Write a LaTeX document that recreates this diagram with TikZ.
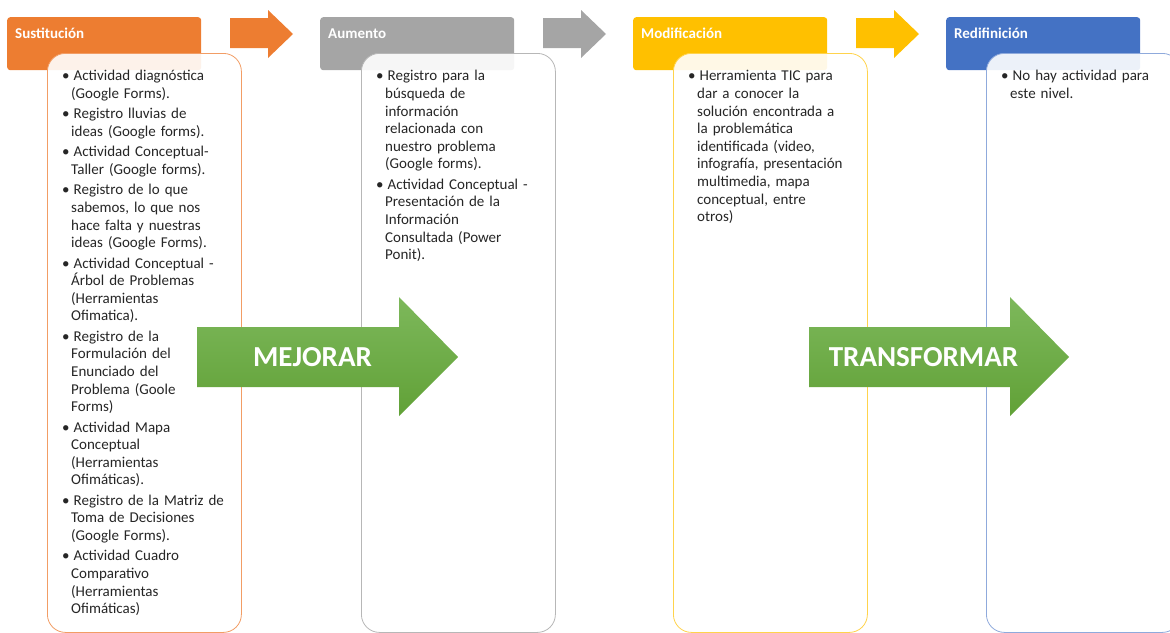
\documentclass[tikz,border=0pt]{standalone}
\usepackage{fontspec}
\setmainfont{Carlito}
\usetikzlibrary{positioning}
\definecolor{naranja}{HTML}{ED7D31}
\definecolor{gris}{HTML}{A5A5A5}
\definecolor{amarillo}{HTML}{FFC000}
\definecolor{azul}{HTML}{4472C4}
\definecolor{verdeclaro}{HTML}{7DB85B}
\definecolor{verdeoscuro}{HTML}{61A137}
\definecolor{texto}{HTML}{262626}
\newenvironment{puntos}{\begin{list}{\textbullet}{\leftmargin=10pt\labelwidth=5pt\labelsep=4pt
  \itemsep=2.8pt\parsep=0pt\topsep=0pt\partopsep=0pt}}{\end{list}}
\tikzset{
  encabezado/.style={anchor=north west, minimum width=194pt, minimum height=53pt, inner sep=0pt, rounded corners=3pt},
  titulo/.style={anchor=base west, inner sep=0pt, text=white, font=\bfseries\fontsize{15}{18}\selectfont},
  contenido/.style={anchor=north west, minimum width=194pt, minimum height=579pt, inner sep=0pt, rounded corners=18pt,
    fill=white, fill opacity=0.9, line width=0.8pt},
  lista/.style={anchor=north west, inner sep=0pt, text width=180pt, align=left, text=texto,
    font=\fontsize{15}{17.6}\selectfont},
  flecha/.style={top color=verdeclaro, bottom color=verdeoscuro},
  rotulo/.style={text=white, font=\bfseries\fontsize{29}{32}\selectfont}
}
\begin{document}
\begin{tikzpicture}[x=1pt,y=-1pt]
\useasboundingbox (0,0) rectangle (1170,632);
% niveles
\node (sust) [encabezado, fill=naranja] at (7,17) {};
\node (aum) [encabezado, fill=gris] at (320,17) {};
\node (modi) [encabezado, fill=amarillo] at (633,17) {};
\node (redi) [encabezado, fill=azul] at (946,17) {};
\node (tsust) [titulo] at (15,38) {Sustitución};
\node (taum) [titulo] at (328,38) {Aumento};
\node (tmodi) [titulo] at (641,38) {Modificación};
\node (tredi) [titulo] at (954,38) {Redifinición};
% flechas pequeñas
\fill[naranja] (230,18) -- (268,18) -- (268,10) -- (293,34) -- (268,58) -- (268,48) -- (230,48) -- cycle;
\fill[gris] (543,18) -- (581,18) -- (581,10) -- (606,34) -- (581,58) -- (581,48) -- (543,48) -- cycle;
\fill[amarillo] (856,18) -- (894,18) -- (894,10) -- (919,34) -- (894,58) -- (894,48) -- (856,48) -- cycle;
% cajas de actividades
\node (csust) [contenido, draw=naranja!75] at (47,53) {};
\node (caum) [contenido, draw=gris!80] at (361,53) {};
\node (cmodi) [contenido, draw=amarillo!70] at (673,53) {};
\node (credi) [contenido, draw=azul!60] at (986,53) {};
\node (lsust) [lista] at (61,63) {\begin{puntos}
  \item Actividad diagnóstica\\(Google Forms).
  \item Registro lluvias de\\ideas (Google forms).
  \item Actividad Conceptual-\\Taller (Google forms).
  \item Registro de lo que\\sabemos, lo que nos\\hace falta y nuestras\\ideas (Google Forms).
  \item Actividad Conceptual -\\Árbol de Problemas\\(Herramientas\\Ofimatica).
  \item Registro de la\\Formulación del\\Enunciado del\\Problema (Goole\\Forms)
  \item Actividad Mapa\\Conceptual\\(Herramientas\\Ofimáticas).
  \item Registro de la Matriz de\\Toma de Decisiones\\(Google Forms).
  \item Actividad Cuadro\\Comparativo\\(Herramientas\\Ofimáticas)
\end{puntos}};
\node (laum) [lista] at (375,63) {\begin{puntos}
  \item Registro para la\\búsqueda de\\información\\relacionada con\\nuestro problema\\(Google forms).
  \item Actividad Conceptual -\\Presentación de la\\Información\\Consultada (Power\\Ponit).
\end{puntos}};
\node (lmodi) [lista] at (687,63) {\begin{puntos}
  \item Herramienta TIC para\\dar a conocer la\\solución encontrada a\\la problemática\\identificada (video,\\infografía, presentación\\multimedia, mapa\\conceptual, entre\\otros)
\end{puntos}};
\node (lredi) [lista] at (1000,63) {\begin{puntos}
  \item No hay actividad para\\este nivel.
\end{puntos}};
% flechas grandes
\shade[flecha] (197,327) -- (399,327) -- (399,297) -- (458,357) -- (399,416) -- (399,387) -- (197,387) -- cycle;
\shade[flecha] (809,327) -- (1010,327) -- (1010,297) -- (1069,357) -- (1010,416) -- (1010,387) -- (809,387) -- cycle;
\node (mejorar) [rotulo] at (312.5,357.5) {MEJORAR};
\node (transformar) [rotulo] at (923.5,357.5) {TRANSFORMAR};
\end{tikzpicture}
\end{document}
